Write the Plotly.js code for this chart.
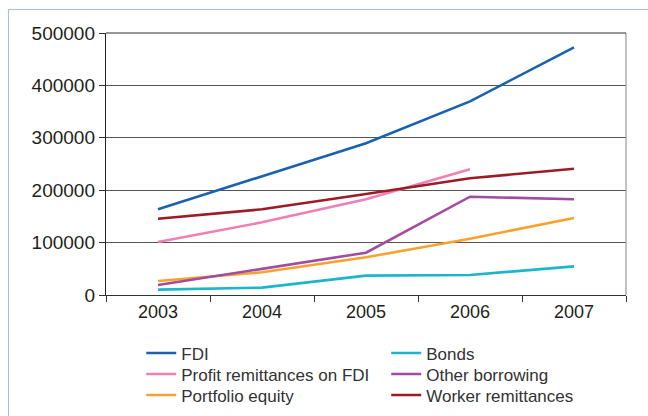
<!DOCTYPE html>
<html>
<head>
<meta charset="utf-8">
<script src="https://cdn.plot.ly/plotly-3.0.1.min.js"></script>
<style>
  html, body { margin: 0; padding: 0; background: #ffffff; }
  #frame { position: absolute; left: 8px; top: 9px; width: 700px; height: 460px; border: 1.5px solid #a9c0dc; box-sizing: border-box; }
  #chart { position: absolute; left: 0; top: 0; width: 648px; height: 416px; }
</style>
</head>
<body>
<div id="frame"></div>
<div id="chart"></div>
<script>
const years = ['2003', '2004', '2005', '2006', '2007'];
const fdi = [163500, 227000, 289500, 369500, 472500];
const bonds = [10200, 14000, 36900, 38200, 54700];
const profitRemittances = [101000, 138700, 182600, 239800, null];
const otherBorrowing = [19000, 49600, 80800, 187600, 182600];
const portfolioEquity = [26700, 43300, 71900, 107500, 147000];
const workerRemittances = [145600, 163500, 192700, 222700, 241000];
const yTicks = [0, 100000, 200000, 300000, 400000, 500000];

function tr(name, y, color, legend) {
  return {
    x: years, y: y, name: name, type: 'scatter', mode: 'lines',
    line: { color: color, width: 2.6 },
    connectgaps: false, hoverinfo: 'skip', legend: legend
  };
}

const data = [
  tr('FDI', fdi, '#1a62ad', 'legend'),
  tr('Profit remittances on FDI', profitRemittances, '#f27fb4', 'legend2'),
  tr('Portfolio equity', portfolioEquity, '#f9a12e', 'legend3'),
  tr('Bonds', bonds, '#1bb6cc', 'legend4'),
  tr('Other borrowing', otherBorrowing, '#a24ca0', 'legend5'),
  tr('Worker remittances', workerRemittances, '#9c1c26', 'legend6')
];

function leg(x, y) {
  return {
    xref: 'container', yref: 'container', xanchor: 'left', yanchor: 'top',
    x: x, y: y, font: { size: 17, color: '#333' }, bgcolor: 'rgba(0,0,0,0)',
    tracegroupgap: 0, itemwidth: 30, traceorder: 'normal'
  };
}

const col1 = 0.218, col2 = 0.596;
const row1 = 0.1935, row2 = 0.143, row3 = 0.0925;

const layout = {
  width: 648, height: 416,
  paper_bgcolor: 'rgba(0,0,0,0)', plot_bgcolor: '#ffffff',
  margin: { l: 106, r: 22, t: 33, b: 121, autoexpand: false },
  font: { family: 'Liberation Sans, Arial, sans-serif', color: '#231f20' },
  showlegend: true,
  xaxis: {
    type: 'category', categoryorder: 'array', categoryarray: years,
    tickson: 'boundaries', ticks: 'outside', ticklen: 6, tickcolor: '#333',
    showline: true, linecolor: '#333', linewidth: 1.2,
    showgrid: false, zeroline: false, tickangle: 0, automargin: false,
    tickfont: { size: 18, color: '#231f20' }, range: [-0.5, 4.5]
  },
  yaxis: {
    range: [0, 500000], tickvals: yTicks, ticktext: yTicks.map(String),
    ticks: 'outside', ticklen: 6, tickcolor: '#333',
    showline: true, linecolor: '#222', linewidth: 1.2, automargin: false,
    showgrid: true, gridcolor: '#555', gridwidth: 1,
    zeroline: false, tickfont: { size: 19, color: '#231f20' }
  },
  shapes: [
    { type: 'line', xref: 'paper', yref: 'paper', x0: 1, x1: 1, y0: 0, y1: 1, line: { color: '#999', width: 1.2 } },
    { type: 'line', xref: 'paper', yref: 'paper', x0: 0, x1: 1, y0: 1, y1: 1, line: { color: '#333', width: 1.2 } }
  ],
  legend: leg(col1, row1),
  legend2: leg(col1, row2),
  legend3: leg(col1, row3),
  legend4: leg(col2, row1),
  legend5: leg(col2, row2),
  legend6: leg(col2, row3)
};

Plotly.newPlot('chart', data, layout, { staticPlot: true, displayModeBar: false });
</script>
</body>
</html>
